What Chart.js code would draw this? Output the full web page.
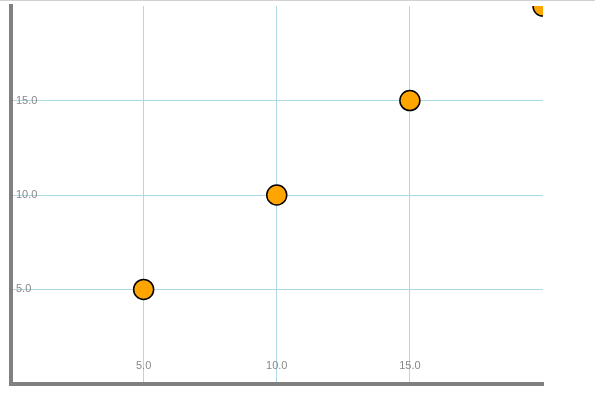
<!DOCTYPE html>
<html lang="en">
<head>
    <meta charset="UTF-8">
    <title>Scatter</title>
    <script src="https://cdn.jsdelivr.net/npm/chart.js"></script>
    <style>
        body {
            margin: 0;
            padding: 0;
            background: #fff;
            overflow: hidden;
        }
        .top-line {
            position: absolute;
            left: 0;
            top: 0;
            width: 595px;
            height: 1px;
            background: #d0d0d0;
            z-index: 2;
        }
        /* canvas pushed a little up/left so the plot area lands where the reference has it */
        .chart-box {
            position: absolute;
            left: -1px;
            top: -6px;
            width: 596px;
            height: 402px;
        }
    </style>
</head>
<body>
    <div class="top-line"></div>
    <div class="chart-box">
        <canvas id="scatterChart"></canvas>
    </div>

    <script>
        // values
        const xValues = [5, 10, 15, 20];
        const yValues = [5, 10, 15, 20];
        const tickValues = [5, 10, 15];
        const tickLabels = ['5.0', '10.0', '15.0'];

        const points = xValues.map((x, i) => ({ x: x, y: yValues[i] }));

        // only 5/10/15 keep a tick, the others are dropped
        function tickLabel(value) {
            const i = tickValues.indexOf(value);
            return i >= 0 ? tickLabels[i] : null;
        }

        const ctx = document.getElementById('scatterChart').getContext('2d');
        new Chart(ctx, {
            type: 'scatter',
            data: {
                datasets: [{
                    data: points,
                    backgroundColor: '#FFA500',
                    borderColor: '#000',
                    borderWidth: 1.5,
                    pointRadius: 10,
                    pointHoverRadius: 10,
                    clip: 0
                }]
            },
            options: {
                responsive: true,
                maintainAspectRatio: false,
                animation: false,
                layout: {
                    padding: { left: 0, right: 52, top: 0, bottom: 5.1 }
                },
                plugins: {
                    legend: { display: false },
                    tooltip: { enabled: false }
                },
                scales: {
                    x: {
                        type: 'linear',
                        min: 0,
                        max: 20,
                        grid: { color: () => '#add8e6', lineWidth: 1, drawTicks: false },
                        border: { color: 'gray', width: 4 },
                        ticks: {
                            stepSize: 5,
                            mirror: true,
                            padding: 3.5,
                            color: '#888',
                            // tall line box only to lift the mirrored labels off the axis
                            font: { size: 11, lineHeight: 2.65 },
                            callback: tickLabel
                        }
                    },
                    y: {
                        type: 'linear',
                        min: 0,
                        max: 20,
                        grid: { color: () => '#add8e6', lineWidth: 1, drawTicks: false },
                        border: { color: 'gray', width: 4 },
                        ticks: {
                            stepSize: 5,
                            mirror: true,
                            padding: 5.5,
                            color: '#888',
                            font: { size: 11 },
                            callback: tickLabel
                        }
                    }
                }
            }
        });
    </script>
</body>
</html>
